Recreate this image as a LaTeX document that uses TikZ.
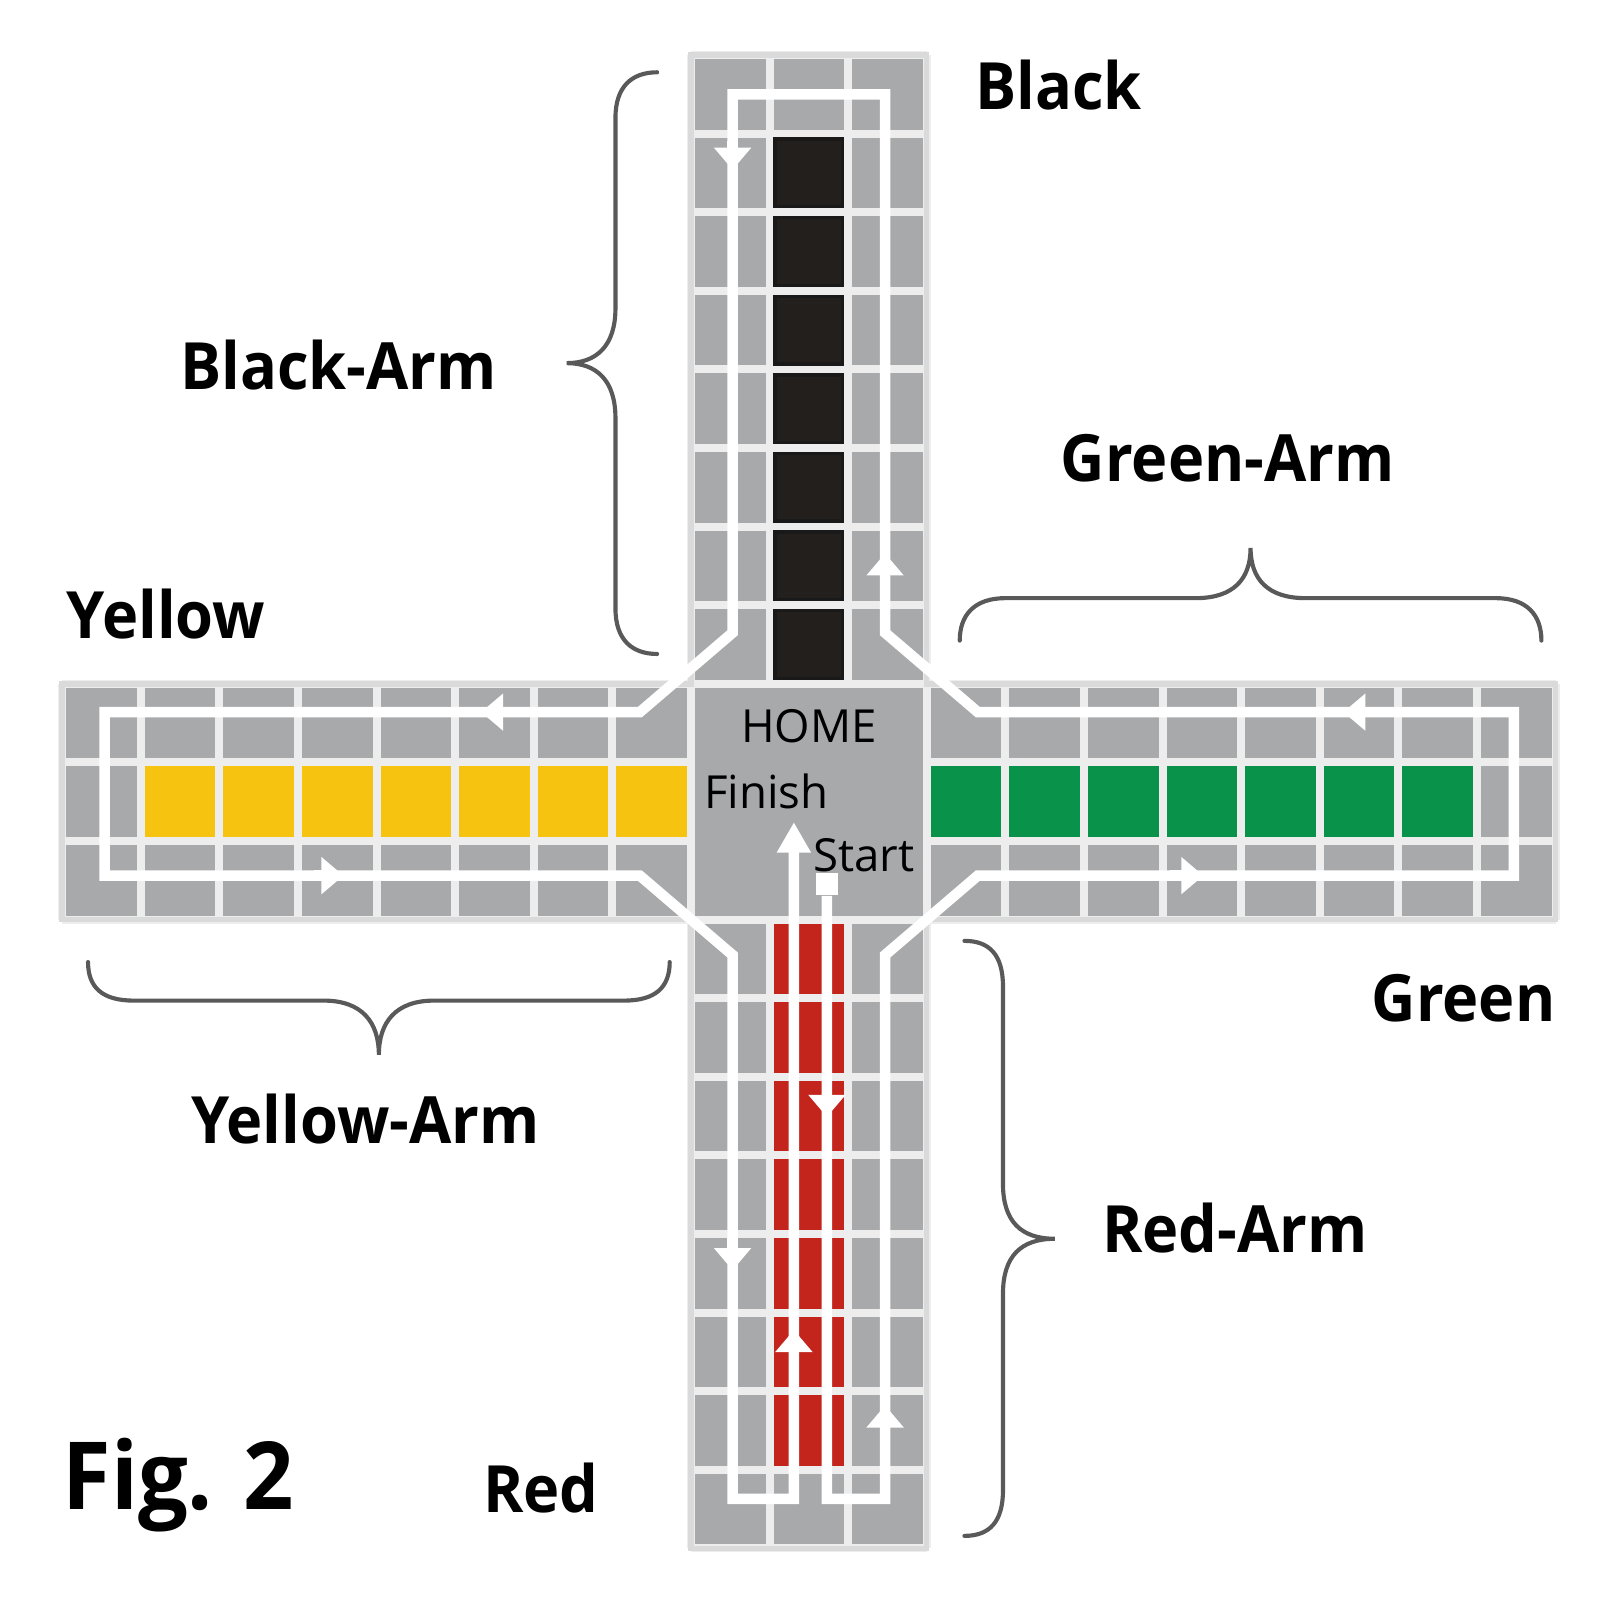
\documentclass[tikz,border=0pt]{standalone}
\usepackage{fontspec}
\setmainfont{Open Sans}
\newfontfamily\armfont[FakeStretch=0.94]{Open Sans}
\usetikzlibrary{arrows.meta}
\definecolor{cellgrey}{HTML}{A8A9AB}
\definecolor{gapgrey}{HTML}{EDEDED}
\definecolor{edgegrey}{HTML}{DADADA}
\definecolor{blk}{HTML}{231F1C}
\definecolor{ylw}{HTML}{F5C310}
\definecolor{grn}{HTML}{08924A}
\definecolor{rd}{HTML}{C3241C}
\definecolor{brcgrey}{HTML}{595959}
\tikzset{
  gapline/.style={draw=gapgrey, line width=2.9pt},
  trk/.style={draw=white, line width=3.8pt, line join=miter},
  hd/.style={-{Triangle[width=13pt,length=8pt]}},
  brc/.style={draw=brcgrey, line width=1.5pt, line cap=round},
  lbl/.style={anchor=base, font=\armfont\bfseries\fontsize{23.6}{28}\selectfont},
  home/.style={anchor=base, font=\fontsize{16.5}{20}\selectfont}
}
\begin{document}
\begin{tikzpicture}
\useasboundingbox (-0.79,-0.91) rectangle (19.82,19.70);

% board
\fill[cellgrey] (8,0) rectangle (11,19) (0,8) rectangle (19,11);
\fill[blk] (9,11) rectangle (10,18);
\fill[ylw] (1,9) rectangle (8,10);
\fill[grn] (11,9) rectangle (18,10);
\fill[rd] (9,1) rectangle (10,8);
\draw[gapline,step=1cm] (8,11) grid (11,19) (8,0) grid (11,8) (0,8) grid (8,11) (11,8) grid (19,11);
\foreach \j in {11,...,17}
  \draw[draw=black!90, line width=1.2pt] (9.07,\j+.07) rectangle (9.93,\j+.93);
\draw[draw=edgegrey, line width=2pt] (8,0)--(11,0)--(11,8)--(19,8)--(19,11)--(11,11)--(11,19)--(8,19)--(8,11)--(0,11)--(0,8)--(8,8)--cycle;

% track
\node[fill=white, minimum size=8pt, inner sep=0pt] (start) at (9.73,8.45) {};
\draw[trk,-{Triangle[width=11.6pt,length=11pt]}] (start.south) -- (9.73,0.63) -- (10.47,0.63) -- (10.47,7.55)
  -- (11.65,8.56) -- (18.47,8.56) -- (18.47,10.64) -- (11.65,10.64) -- (10.47,11.65)
  -- (10.47,18.5) -- (8.53,18.5) -- (8.53,11.65) -- (7.35,10.64) -- (0.54,10.64)
  -- (0.54,8.56) -- (7.35,8.56) -- (8.53,7.55) -- (8.53,0.63) -- (9.31,0.63) -- (9.31,9.24);
\draw[trk,hd] (8.53,17.9) -- (8.53,17.54);
\draw[trk,hd] (10.47,12.3) -- (10.47,12.66);
\draw[trk,hd] (5.75,10.64) -- (5.33,10.64);
\draw[trk,hd] (3.2,8.56) -- (3.58,8.56);
\draw[trk,hd] (14.1,8.56) -- (14.52,8.56);
\draw[trk,hd] (16.7,10.64) -- (16.3,10.64);
\draw[trk,hd] (8.53,3.95) -- (8.53,3.54);
\draw[trk,hd] (9.31,2.4) -- (9.31,2.78);
\draw[trk,hd] (10.47,1.4) -- (10.47,1.82);
\draw[trk,hd] (9.73,5.85) -- (9.73,5.49);

% centre texts
\draw node[home] (homelbl) at (9.50,10.25) {HOME};
\draw node[home] (finlbl) at (8.96,9.42) {Finish};
\draw node[home] (startlbl) at (10.20,8.61) {Start};

% braces
\draw[brc] (7.57,18.78) .. controls (7.25,18.78) and (7.04,18.6) .. (7.04,18.2) -- (7.04,15.78)
  .. controls (7.04,15.3) and (6.8,15.08) .. (6.42,15.08) .. controls (6.8,15.08) and (7.04,14.86) .. (7.04,14.38)
  -- (7.04,11.96) .. controls (7.04,11.56) and (7.25,11.38) .. (7.57,11.38);
\draw[brc] (11.42,11.55) .. controls (11.42,11.87) and (11.6,12.09) .. (12.0,12.09) -- (14.42,12.09)
  .. controls (14.9,12.09) and (15.12,12.33) .. (15.12,12.73) .. controls (15.12,12.33) and (15.34,12.09) .. (15.82,12.09)
  -- (18.24,12.09) .. controls (18.64,12.09) and (18.82,11.87) .. (18.82,11.55);
\draw[brc] (0.33,7.46) .. controls (0.33,7.14) and (0.51,6.97) .. (0.91,6.97) -- (3.33,6.97)
  .. controls (3.81,6.97) and (4.03,6.7) .. (4.03,6.28) .. controls (4.03,6.7) and (4.25,6.97) .. (4.73,6.97)
  -- (7.15,6.97) .. controls (7.55,6.97) and (7.73,7.14) .. (7.73,7.46);
\draw[brc] (11.48,7.73) .. controls (11.8,7.73) and (11.97,7.55) .. (11.97,7.15) -- (11.97,4.64)
  .. controls (11.97,4.16) and (12.2,3.94) .. (12.63,3.94) .. controls (12.2,3.94) and (11.97,3.72) .. (11.97,3.24)
  -- (11.97,0.74) .. controls (11.97,0.34) and (11.8,0.16) .. (11.48,0.16);

% labels
\draw node[lbl] (blacklbl) at (12.68,18.31) {Black};
\draw node[lbl] (blackarm) at (3.52,14.75) {Black-Arm};
\draw node[lbl] (greenarm) at (14.83,13.57) {Green-Arm};
\draw node[lbl] (yellowlbl) at (1.32,11.58) {Yellow};
\draw node[lbl] (greenlbl) at (17.83,6.71) {Green};
\draw node[lbl] (yellowarm) at (3.86,5.15) {Yellow-Arm};
\draw node[lbl] (redarm) at (14.92,3.76) {Red-Arm};
\draw node[lbl] (redlbl) at (6.09,0.46) {Red};
\draw node[anchor=base, font=\armfont\bfseries\fontsize{34}{40}\selectfont] (fig) at (1.48,0.49) {Fig. 2};
\end{tikzpicture}
\end{document}
